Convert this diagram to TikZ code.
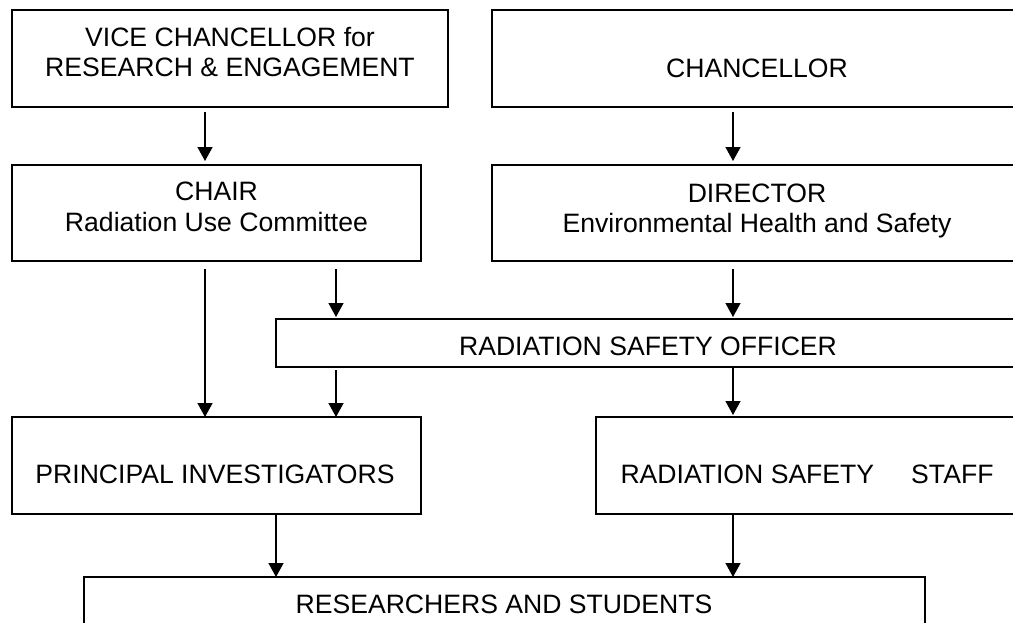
\documentclass[tikz,border=0pt]{standalone}
\usepackage{fontspec}
\setmainfont{Liberation Sans}
\usetikzlibrary{arrows.meta}
\begin{document}
\begin{tikzpicture}[x=1pt,y=-1pt,
  box/.style={draw,line width=1.4pt,inner sep=0pt,outer sep=0pt,rectangle},
  txt/.style={inner sep=0pt,outer sep=0pt,align=center,font=\fontsize{26.6}{30.5}\selectfont},
  arr/.style={line width=1.3pt,-{Triangle[width=15pt,length=14pt]}}]
\useasboundingbox (0,0) rectangle (1013,622);
\clip (0,0) rectangle (1013,622);
% boxes
\node[box,minimum width=436pt,minimum height=97pt] (vc) at (230,58.5) {};
\node[box,minimum width=530pt,minimum height=97pt] (ch) at (757,58.5) {};
\node[box,minimum width=409pt,minimum height=96pt] (chair) at (216.5,213) {};
\node[box,minimum width=530pt,minimum height=96pt] (dir) at (757,213) {};
\node[box,minimum width=744pt,minimum height=48pt] (rso) at (648,343) {};
\node[box,minimum width=409pt,minimum height=97pt] (pi) at (216.5,465.5) {};
\node[box,minimum width=422pt,minimum height=97pt] (staff) at (807,465.5) {};
\node[box,minimum width=841pt,minimum height=63pt] (rs) at (504.5,608.5) {};
% texts
\node[txt] (vct) at (230,55.4) {\strut VICE CHANCELLOR for\\\strut RESEARCH \& ENGAGEMENT};
\node[txt] (cht) at (757,70.9) {\strut CHANCELLOR};
\node[txt] (chairt) at (216.5,209.9) {\strut CHAIR\\\strut Radiation Use Committee};
\node[txt] (dirt) at (757,211.4) {\strut DIRECTOR\\\strut Environmental Health and Safety};
\node[txt] (rsot) at (648,348.9) {\strut RADIATION SAFETY OFFICER};
\node[txt] (pit) at (215,476.9) {\strut PRINCIPAL INVESTIGATORS};
\node[txt] (stafft) at (807,476.9) {\strut RADIATION SAFETY\hspace{29.6pt} STAFF};
\node[txt] (rst) at (504,606.9) {\strut RESEARCHERS AND STUDENTS};
% arrows
\draw[arr] ([xshift=-25pt,yshift=-5pt]vc.south) -- ([xshift=-11.5pt,yshift=4pt]chair.north);
\draw[arr] ([xshift=-24pt,yshift=-5pt]ch.south) -- ([xshift=-24pt,yshift=4pt]dir.north);
\draw[arr] ([xshift=-11.5pt,yshift=-8pt]chair.south) -- ([xshift=-11.5pt]pi.north);
\draw[arr] ([xshift=119.5pt,yshift=-8pt]chair.south) -- ([xshift=-312pt,yshift=2pt]rso.north);
\draw[arr] ([xshift=-24pt,yshift=-8pt]dir.south) -- ([xshift=85pt,yshift=2pt]rso.north);
\draw[arr] ([xshift=-312pt,yshift=-3pt]rso.south) -- ([xshift=119.5pt]pi.north);
\draw[arr] ([xshift=85pt]rso.south) -- ([xshift=-74pt,yshift=2pt]staff.north);
\draw[arr] ([xshift=59.5pt]pi.south) -- ([xshift=-228.5pt]rs.north);
\draw[arr] ([xshift=-74pt]staff.south) -- ([xshift=228.5pt]rs.north);
\end{tikzpicture}
\end{document}
